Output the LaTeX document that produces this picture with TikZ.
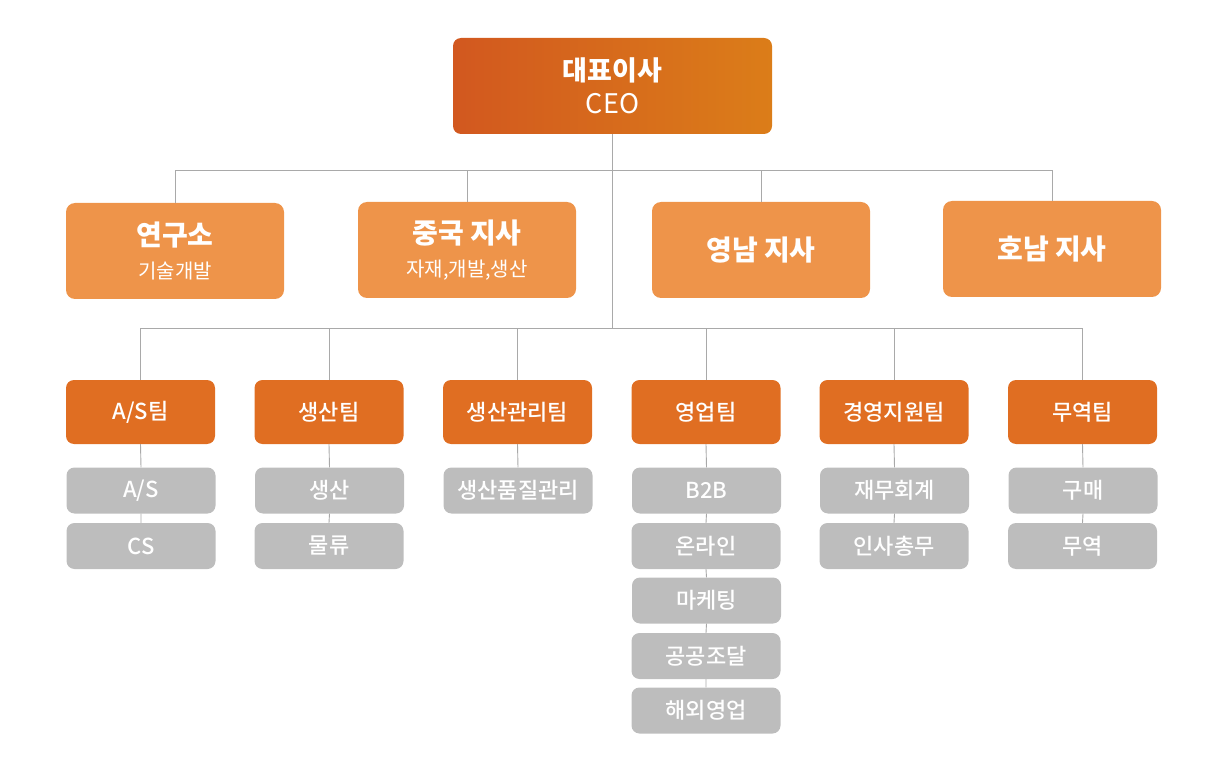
\documentclass[tikz,border=0pt]{standalone}
\usepackage{fontspec}
\setmainfont{Noto Sans CJK KR}
\newfontfamily\medfont{Noto Sans CJK KR Medium}

\definecolor{ceoleft}{HTML}{D2581F}
\definecolor{ceoright}{HTML}{DB7D19}
\definecolor{branchorange}{HTML}{EE944A}
\definecolor{teamorange}{HTML}{E06E22}
\definecolor{dutygray}{HTML}{BDBDBD}
\definecolor{linegray}{HTML}{A9A9A9}

\newcommand{\subtxt}[1]{{\mdseries\fontsize{20}{24}\selectfont #1}}

\tikzset{
  orgline/.style={draw=linegray, line width=0.9pt},
  ceobox/.style={rounded corners=8pt, minimum width=319pt, minimum height=96pt,
    left color=ceoleft, right color=ceoright, text=white, align=center, inner sep=0pt},
  branch/.style={fill=branchorange, rounded corners=9pt, minimum width=218pt, minimum height=96pt,
    text=white, align=center, inner sep=0pt, font=\fontsize{28}{32}\selectfont\bfseries},
  team/.style={fill=teamorange, rounded corners=8pt, minimum width=149pt, minimum height=64pt,
    text=white, inner sep=0pt, font=\medfont\fontsize{22}{26}\selectfont},
  duty/.style={fill=dutygray, rounded corners=8pt, minimum width=149pt, minimum height=46pt,
    text=white, inner sep=0pt, font=\medfont\fontsize{22}{26}\selectfont}
}

\begin{document}
\begin{tikzpicture}[x=1pt, y=-1pt]
    \useasboundingbox (0,0) rectangle (1227,770);

    % top
    \node[ceobox] (ceo) at (612.5,86) {{\bfseries\fontsize{27}{30}\selectfont 대표이사}\\[9pt]{\fontsize{27}{30}\selectfont CEO}};
    \coordinate (bbus) at (612.5,170);
    \coordinate (tbus) at (612.5,328);

    % branches
    \node[branch] (lab) at (175,251) {연구소\\[1pt]\subtxt{기술개발}};
    \node[branch] (cn) at (467,250) {중국 지사\\[1pt]\subtxt{자재,개발,생산}};
    \node[branch] (yn) at (761,250) {영남 지사};
    \node[branch] (hn) at (1052,249) {호남 지사};

    % teams
    \node[team] (as) at (140.5,412) {A/S팀};
    \node[team] (prod) at (329,412) {생산팀};
    \node[team] (pm) at (517.5,412) {생산관리팀};
    \node[team] (sales) at (706,412) {영업팀};
    \node[team] (mgmt) at (894,412) {경영지원팀};
    \node[team] (trade) at (1082.5,412) {무역팀};

    % duties
    \node[duty] (as1) at (141,490.5) {A/S};
    \node[duty] (as2) at (141,546) {CS};
    \node[duty] (prod1) at (329.5,490.5) {생산};
    \node[duty] (prod2) at (329,546) {물류};
    \node[duty] (pm1) at (518,490.5) {생산품질관리};
    \node[duty] (sales1) at (706.5,490.5) {B2B};
    \node[duty] (sales2) at (706,546) {온라인};
    \node[duty] (sales3) at (706.5,600.5) {마케팅};
    \node[duty] (sales4) at (706,656) {공공조달};
    \node[duty] (sales5) at (706,710.5) {해외영업};
    \node[duty] (mgmt1) at (894.5,490.5) {재무회계};
    \node[duty] (mgmt2) at (894,546) {인사총무};
    \node[duty] (trade1) at (1083,490.5) {구매};
    \node[duty] (trade2) at (1082.5,546) {무역};

    % lines
    \draw[orgline] (ceo.south) -- (tbus);
    \draw[orgline] (lab.north) -- (lab.north |- bbus) -- (hn.north |- bbus) -- (hn.north);
    \draw[orgline] (cn.north) -- (cn.north |- bbus);
    \draw[orgline] (yn.north) -- (yn.north |- bbus);

    \draw[orgline] (as.north) -- (as.north |- tbus) -- (trade.north |- tbus) -- (trade.north);
    \draw[orgline] (prod.north) -- (prod.north |- tbus);
    \draw[orgline] (pm.north) -- (pm.north |- tbus);
    \draw[orgline] (sales.north) -- (sales.north |- tbus);
    \draw[orgline] (mgmt.north) -- (mgmt.north |- tbus);

    \draw[orgline] (as.south) -- (as1.north) (as1.south) -- (as2.north);
    \draw[orgline] (prod.south) -- (prod1.north) (prod1.south) -- (prod2.north);
    \draw[orgline] (pm.south) -- (pm1.north);
    \draw[orgline] (sales.south) -- (sales1.north) (sales1.south) -- (sales2.north)
        (sales2.south) -- (sales3.north) (sales3.south) -- (sales4.north) (sales4.south) -- (sales5.north);
    \draw[orgline] (mgmt.south) -- (mgmt1.north) (mgmt1.south) -- (mgmt2.north);
    \draw[orgline] (trade.south) -- (trade1.north) (trade1.south) -- (trade2.north);
\end{tikzpicture}
\end{document}
